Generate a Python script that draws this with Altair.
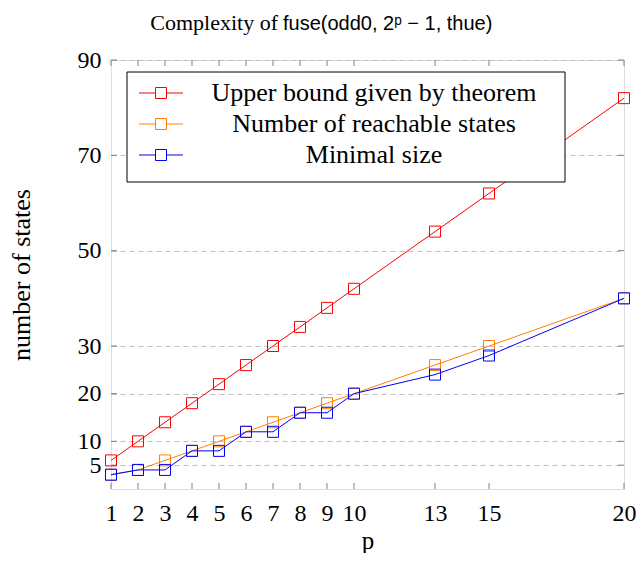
import altair as alt
import pandas as pd

# ---- data ----
p_values = [1, 2, 3, 4, 5, 6, 7, 8, 9, 10, 13, 15, 20]
upper_bound = [6, 10, 14, 18, 22, 26, 30, 34, 38, 42, 54, 62, 82]
reachable = [3, 4, 6, 8, 10, 12, 14, 16, 18, 20, 26, 30, 40]
minimal = [3, 4, 4, 8, 8, 12, 12, 16, 16, 20, 24, 28, 40]

series_names = ["Upper bound given by theorem", "Number of reachable states", "Minimal size"]
series_colors = ["#ff0000", "#ff8000", "#0000ff"]

x_ticks = [1, 2, 3, 4, 5, 6, 7, 8, 9, 10, 13, 15, 20]
y_ticks = [5, 10, 20, 30, 50, 70, 90]

title_serif = "Complexity of"
title_sans = "fuse(odd0, 2\u1d56 \u2212 1, thue)"
x_title = "p"
y_title = "number of states"

W, H = 513, 429
SERIF = "Liberation Serif"
SANS = "Liberation Sans"

rows = []
for name, vals in zip(series_names, [upper_bound, reachable, minimal]):
    for p, v in zip(p_values, vals):
        rows.append({"p": p, "states": v, "series": name})
df = pd.DataFrame(rows)

xs = alt.Scale(domain=[1, 20], nice=False, zero=False)
ys = alt.Scale(domain=[0, 90], nice=False, zero=True)
color = alt.Color(
    "series:N",
    scale=alt.Scale(domain=series_names, range=series_colors),
    sort=series_names,
    legend=alt.Legend(
        title=None,
        orient="none",
        legendX=16,
        legendY=10,
        padding=10,
        rowPadding=5,
        labelFont=SERIF,
        labelFontSize=26,
        labelColor="black",
        labelAlign="center",
        labelOffset=200,
        labelLimit=600,
        symbolType="M-2,0L-0.5,0M0.5,0L2,0M-0.5,-0.5L0.5,-0.5L0.5,0.5L-0.5,0.5Z",
        symbolSize=484,
        symbolStrokeWidth=1,
        symbolOffset=11,
    ),
)

x_axis = alt.Axis(
    values=x_ticks,
    grid=False,
    ticks=False,
    domain=False,
    labelFont=SERIF,
    labelFontSize=24,
    labelColor="black",
    labelPadding=12,
    labelFlush=False,
    labelOverlap=False,
    title=x_title,
    titleFont=SERIF,
    titleFontSize=25,
    titleFontWeight="normal",
    titleColor="black",
    titleY=59,
    titleBaseline="alphabetic",
)
y_axis = alt.Axis(
    values=y_ticks,
    grid=True,
    gridColor="#bfbfbf",
    gridDash=[5, 4],
    gridWidth=1,
    ticks=False,
    domain=False,
    labelFont=SERIF,
    labelFontSize=24,
    labelColor="black",
    labelPadding=10,
    labelOverlap=False,
    labelFlush=False,
    title=y_title,
    titleFont=SERIF,
    titleFontSize=26,
    titleFontWeight="normal",
    titleColor="black",
    titleX=-90,
    titleY=H / 2,
    titleAngle=-90,
    titleAlign="center",
    titleBaseline="middle",
)

base = alt.Chart(df)

lines = base.mark_line(strokeWidth=1).encode(
    x=alt.X("p:Q", scale=xs, axis=x_axis),
    y=alt.Y("states:Q", scale=ys, axis=y_axis),
    color=color,
    order=alt.Order("p:Q"),
)
points = base.mark_point(shape="square", filled=False, size=121, strokeWidth=1, opacity=1).encode(
    x=alt.X("p:Q", scale=xs),
    y=alt.Y("states:Q", scale=ys),
    color=color,
)

tick_col = "#808080"
xt = alt.Chart(pd.DataFrame({"p": x_ticks}))
x_ticks_bottom = xt.mark_rule(color=tick_col, strokeWidth=1).encode(
    x=alt.X("p:Q", scale=xs), y=alt.value(H), y2=alt.value(H - 6)
)
x_ticks_top = xt.mark_rule(color=tick_col, strokeWidth=1).encode(
    x=alt.X("p:Q", scale=xs), y=alt.value(0), y2=alt.value(6)
)
yt = alt.Chart(pd.DataFrame({"states": y_ticks}))
y_ticks_left = yt.mark_rule(color=tick_col, strokeWidth=1).encode(
    y=alt.Y("states:Q", scale=ys), x=alt.value(0), x2=alt.value(6)
)
y_ticks_right = yt.mark_rule(color=tick_col, strokeWidth=1).encode(
    y=alt.Y("states:Q", scale=ys), x=alt.value(W), x2=alt.value(W - 6)
)

# legend frame (white box covering the lines, like the reference)
legend_box = alt.Chart(pd.DataFrame({"k": [0]})).mark_rect(
    fill="white", stroke="black", strokeWidth=1
).encode(x=alt.value(16), x2=alt.value(454), y=alt.value(12), y2=alt.value(122))

tdf = pd.DataFrame({"a": [title_serif], "b": [title_sans]})
t1 = alt.Chart(tdf).mark_text(font=SERIF, fontSize=22, align="right", baseline="alphabetic", color="black").encode(
    text="a:N", x=alt.value(167), y=alt.value(-30)
)
t2 = alt.Chart(tdf).mark_text(font=SANS, fontSize=20, align="left", baseline="alphabetic", color="black").encode(
    text="b:N", x=alt.value(172), y=alt.value(-30)
)

chart = (
    alt.layer(x_ticks_bottom, x_ticks_top, y_ticks_left, y_ticks_right, lines, points, legend_box, t1, t2)
    .properties(
        width=W,
        height=H,
        autosize=alt.AutoSizeParams(type="none"),
        padding={"left": 103, "top": 52, "right": 12, "bottom": 64},
    )
    .configure_view(stroke="black", strokeWidth=1)
    .configure(background="white")
)

chart.save("out.html", embed_options={"renderer": "svg", "actions": False})
